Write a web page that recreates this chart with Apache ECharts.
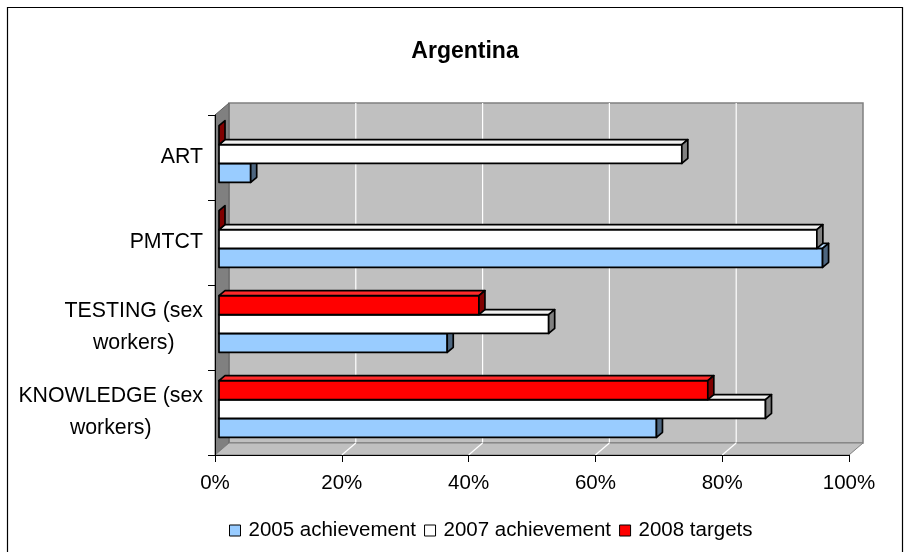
<!DOCTYPE html>
<html>
<head>
<meta charset="utf-8">
<script src="https://cdn.jsdelivr.net/npm/echarts@6/dist/echarts.min.js"></script>
<style>
html,body{margin:0;padding:0;background:#fff;}
#chart{width:909px;height:552px;}
</style>
</head>
<body>
<div id="chart"></div>
<script>
// ---- data ----
const categories = ['KNOWLEDGE (sex\nworkers)', 'TESTING (sex\nworkers)', 'PMTCT', 'ART'];
const seriesNames = ['2005 achievement', '2007 achievement', '2008 targets'];
const values2005 = [69, 36, 95.2, 5];
const values2007 = [86.2, 52, 94.3, 73];
const values2008 = [77.1, 41, 0, 0];
const xTicks = [0, 20, 40, 60, 80, 100];

// ---- style ----
const FONT = '"Liberation Sans", Arial, sans-serif';
const WALL = [14, -12];   // depth of the 3D box
const BAR_OFF = [4, -3.5]; // front face of bars relative to front plane
const BAR_D = [6, -5];    // depth of a bar
const colors = [
  {front: '#99CCFF', top: '#B8DCFF', side: '#4D6680'},
  {front: '#FFFFFF', top: '#F0F0F0', side: '#808080'},
  {front: '#FF0000', top: '#FF2A2A', side: '#800000'}
];

const chart = echarts.init(document.getElementById('chart'));

function wallsRender(params, api) {
  const cs = params.coordSys;
  const L = cs.x, T = cs.y, R = cs.x + cs.width, B = cs.y + cs.height;
  const dx = WALL[0], dy = WALL[1];
  const children = [];
  children.push({type: 'rect', shape: {x: L + dx, y: T + dy, width: R - L, height: B - T},
    style: {fill: '#C0C0C0', stroke: '#808080', lineWidth: 1.5}});
  xTicks.forEach(function (t) {
    if (t === 0 || t === 100) return;
    const px = api.coord([t, 0])[0];
    children.push({type: 'line', shape: {x1: px + dx, y1: T + dy, x2: px + dx, y2: B + dy},
      style: {stroke: '#FFFFFF', lineWidth: 1.2}});
  });
  children.push({type: 'polygon', shape: {points: [[L, T], [L + dx, T + dy], [L + dx, B + dy], [L, B]]},
    style: {fill: '#808080', stroke: '#606060', lineWidth: 1}});
  children.push({type: 'polygon', shape: {points: [[L, B], [L + dx, B + dy], [R + dx, B + dy], [R, B]]},
    style: {fill: '#C0C0C0', stroke: '#808080', lineWidth: 1}});
  xTicks.forEach(function (t) {
    if (t === 0 || t === 100) return;
    const px = api.coord([t, 0])[0];
    children.push({type: 'line', shape: {x1: px, y1: B, x2: px + dx, y2: B + dy},
      style: {stroke: '#FFFFFF', lineWidth: 1.2}});
  });
  return {type: 'group', children: children};
}

function makeBarRender(idx) {
  const c = colors[idx];
  return function (params, api) {
    const val = api.value(0);
    const cat = api.value(1);
    const p1 = api.coord([val, cat]);
    const p0 = api.coord([0, cat]);
    const band = api.size([0, 1])[1];
    const h = band / 4.5;
    const bottom = p1[1] + 1.5 * h - idx * h + BAR_OFF[1];
    const top = bottom - h;
    const x0 = p0[0] + BAR_OFF[0];
    const x1 = p1[0] + BAR_OFF[0];
    const dx = BAR_D[0], dy = BAR_D[1];
    const st = {stroke: '#000', lineWidth: 1.7, lineJoin: 'round'};
    const children = [];
    if (x1 - x0 > 0.5) {
      children.push({type: 'rect', shape: {x: x0, y: top, width: x1 - x0, height: h},
        style: Object.assign({fill: c.front}, st)});
      children.push({type: 'polygon', shape: {points: [[x0, top], [x0 + dx, top + dy], [x1 + dx, top + dy], [x1, top]]},
        style: Object.assign({fill: c.top}, st)});
    }
    children.push({type: 'polygon', shape: {points: [[x1, top], [x1 + dx, top + dy], [x1 + dx, bottom + dy], [x1, bottom]]},
      style: Object.assign({fill: c.side}, st)});
    return {type: 'group', children: children};
  };
}

const allValues = [values2005, values2007, values2008];
const barSeries = seriesNames.map(function (name, i) {
  return {
    name: name,
    type: 'custom',
    z: 3 + i,
    clip: false,
    renderItem: makeBarRender(i),
    encode: {x: 0, y: 1},
    itemStyle: {color: colors[i].front, borderColor: '#000', borderWidth: 1},
    data: allValues[i].map(function (v, k) { return [v, k]; })
  };
});

const option = {
  animation: false,
  backgroundColor: '#FFFFFF',
  title: {
    text: 'Argentina',
    left: 460,
    textAlign: 'center',
    top: 35,
    textStyle: {fontFamily: FONT, fontSize: 23, fontWeight: 'bold', color: '#000'}
  },
  legend: {
    data: seriesNames.map(function (n, i) {
      return {name: n, icon: 'rect', itemStyle: {color: colors[i].front, borderColor: '#000', borderWidth: 1}};
    }),
    left: 224,
    top: 515,
    itemWidth: 11,
    itemHeight: 11,
    itemGap: 8,
    textStyle: {fontFamily: FONT, fontSize: 20.5, color: '#000', padding: [0, 0, 0, 3]}
  },
  grid: {left: 215, right: 60, top: 115, bottom: 97, containLabel: false},
  xAxis: {
    type: 'value',
    min: 0, max: 100, interval: 20,
    z: 10,
    axisLine: {show: true, lineStyle: {color: '#000', width: 1}},
    axisTick: {show: true, length: 7, lineStyle: {color: '#000'}},
    splitLine: {show: false},
    axisLabel: {formatter: '{value}%', margin: 18, fontFamily: FONT, fontSize: 20.5, color: '#000'}
  },
  yAxis: {
    type: 'category',
    data: categories,
    z: 10,
    axisLine: {show: true, lineStyle: {color: '#000', width: 1}},
    axisTick: {show: true, length: 7, lineStyle: {color: '#000'}},
    splitLine: {show: false},
    axisLabel: {
      margin: 12,
      fontFamily: FONT, fontSize: 21.3, color: '#000', lineHeight: 32,
      formatter: function (v) {
        return v.split('\n').map(function (s) { return '{c|' + s + '}'; }).join('\n');
      },
      rich: {c: {align: 'center', fontFamily: FONT, fontSize: 21.3, color: '#000', lineHeight: 32}}
    }
  },
  graphic: [{
    type: 'rect', z: 100, silent: true,
    shape: {x: 7.5, y: 7.5, width: 895, height: 560},
    style: {fill: 'none', stroke: '#000', lineWidth: 1.2}
  }],
  series: [{
    type: 'custom', name: 'walls', z: 1, clip: false,
    renderItem: wallsRender, encode: {x: 0, y: 1},
    data: [[0, 0]], silent: true
  }].concat(barSeries)
};
chart.setOption(option);
</script>
</body>
</html>
